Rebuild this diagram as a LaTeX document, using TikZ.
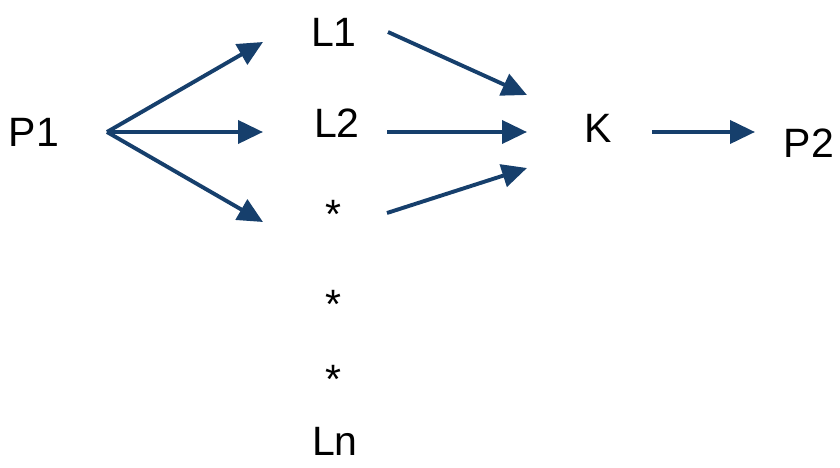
\documentclass[tikz,border=0pt]{standalone}
\usepackage{fontspec}
\setmainfont{Liberation Sans}
\usepackage{tikz}
\usetikzlibrary{calc,arrows.meta}

\definecolor{arrowblue}{RGB}{22,63,108}

\begin{document}
\begin{tikzpicture}[x=1pt,y=-1pt,main node/.style={inner sep=0pt,text height=29.4pt,text depth=0pt,font=\fontsize{41}{45}\selectfont},arr/.style={draw=arrowblue,line width=3.9pt,-{Triangle[length=25pt,width=23pt]}}]
    \useasboundingbox (0,0) rectangle (840,468);

		\node[main node](p1) at (34,132){P1};
		\node[main node](l1) at (334,32){L1};
		\node[main node](l2) at (337,123){L2};
		\node[main node](s1) at (333,214){*};
		\node[main node](s2) at (333,304){*};
		\node[main node](s3) at (333,379){*};
		\node[main node](ln) at (335,441){Ln};
		\node[main node](k) at (598,128){K};
		\node[main node](p2) at (809,143){P2};

		\path ($(p1)+(73,0)$) edge [arr] ($(l1)+(-71,10)$);
		\path ($(p1)+(73,0)$) edge [arr] ($(l2)+(-74,9)$);
		\path ($(p1)+(73,0)$) edge [arr] ($(s1)+(-70,8)$);
		\path ($(l1)+(54,0)$) edge [arr] ($(k)+(-71,-33)$);
		\path ($(l2)+(50,9)$) edge [arr] ($(k)+(-71,4)$);
		\path ($(s1)+(54,-1)$) edge [arr] ($(k)+(-71,40)$);
		\path ($(k)+(54,4)$) edge [arr] ($(p2)+(-54,-11)$);

	\end{tikzpicture}
\end{document}
